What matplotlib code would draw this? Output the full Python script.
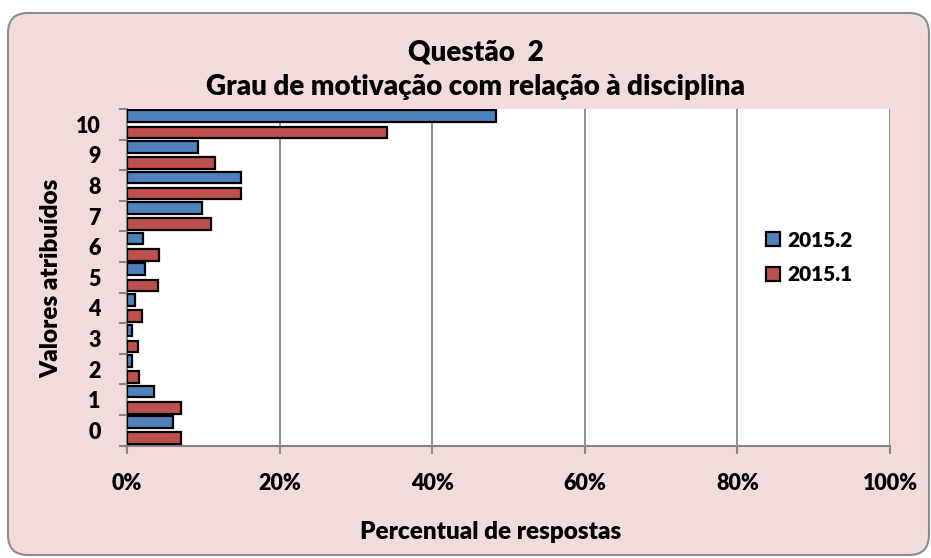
import matplotlib
matplotlib.use("Agg")
import matplotlib.pyplot as plt
from matplotlib.patches import FancyBboxPatch
import numpy as np

# ====== DATA =======
categories = ["0", "1", "2", "3", "4", "5", "6", "7", "8", "9", "10"]
serie_2015_2 = [6.0, 3.6, 0.7, 0.7, 1.0, 2.3, 2.1, 9.8, 15.0, 9.3, 48.4]
serie_2015_1 = [7.1, 7.1, 1.6, 1.5, 2.0, 4.0, 4.2, 11.0, 14.9, 11.5, 34.1]
xticks_pct = [0, 20, 40, 60, 80, 100]

BLUE = "#4F81BD"
RED = "#C0504D"
PINK = "#F2DCDB"
GRID = "#868686"
FONT = "Lato"
WEIGHT = "heavy"

W, H = 931, 558

# ====== FIGURE =======
fig = plt.figure(figsize=(W / 100, H / 100), dpi=100)
fig.patch.set_facecolor("white")

bg = FancyBboxPatch((0.08, 0.03), 9.21, 5.42,
                    boxstyle="round,pad=0,rounding_size=0.2",
                    transform=fig.dpi_scale_trans,
                    facecolor=PINK, edgecolor="#8C8C8C", linewidth=1.5,
                    zorder=-5)
fig.patches.append(bg)

ax = fig.add_axes([127 / W, (H - 445.5) / H, 763 / W, 336.5 / H])
ax.set_facecolor("white")

y = np.arange(len(categories))
h = 0.38
off = 0.265
ax.barh(y + off, serie_2015_2, height=h, color=BLUE, edgecolor="black",
        linewidth=1.6, label="2015.2", zorder=3)
ax.barh(y - off, serie_2015_1, height=h, color=RED, edgecolor="black",
        linewidth=1.6, label="2015.1", zorder=3)

ax.set_xlim(0, 100)
ax.set_ylim(-0.5, len(categories) - 0.5)

ax.set_xticks(xticks_pct)
ax.set_xticklabels([f"{v}%" for v in xticks_pct], fontsize=15.5,
                   fontweight=WEIGHT, family=FONT)
ax.tick_params(axis="x", length=6, width=1.5, color=GRID, pad=14)

ax.set_yticks(y)
ax.set_yticklabels(categories, fontsize=15.5, fontweight=WEIGHT, family=FONT)
ax.set_yticks(np.arange(-0.5, len(categories)), minor=True)
ax.tick_params(axis="y", which="major", length=0, pad=19)
ax.tick_params(axis="y", which="minor", length=6, width=1.5, color=GRID)

ax.grid(axis="x", color=GRID, linewidth=1.3, zorder=0)
for s in ["top", "right"]:
    ax.spines[s].set_visible(False)
for s in ["left", "bottom"]:
    ax.spines[s].set_color(GRID)
    ax.spines[s].set_linewidth(1.5)

# axis titles
fig.text(491 / W, 1 - 532 / H, "Percentual de respostas", ha="center",
         va="center", fontsize=17.5, fontweight=WEIGHT, family=FONT)
fig.text(51 / W, 1 - 278 / H, "Valores atribuídos", ha="center",
         va="center", rotation=90, fontsize=17.5, fontweight=WEIGHT,
         family=FONT)

# chart title
fig.text(476 / W, 1 - 52 / H, "Questão  2", ha="center", va="center",
         fontsize=20, fontweight=WEIGHT, family=FONT)
fig.text(476 / W, 1 - 87 / H, "Grau de motivação com relação à disciplina",
         ha="center", va="center", fontsize=20, fontweight=WEIGHT, family=FONT)

leg = ax.legend(loc="center left", bbox_to_anchor=(0.837, 0.559),
                frameon=False, borderpad=0, borderaxespad=0,
                prop={"family": FONT, "weight": WEIGHT, "size": 15},
                handlelength=0.67, handleheight=0.67, handletextpad=0.35,
                labelspacing=0.75)

fig.savefig("out.png", dpi=100, facecolor=fig.get_facecolor())
